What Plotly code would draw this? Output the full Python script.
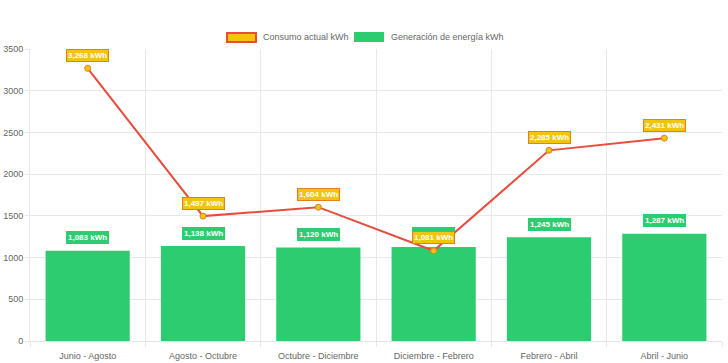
import plotly.graph_objects as go

categories = ["Junio - Agosto", "Agosto - Octubre", "Octubre - Diciembre",
              "Diciembre - Febrero", "Febrero - Abril", "Abril - Junio"]
consumo = [3268, 1497, 1604, 1081, 2285, 2431]
generacion = [1083, 1138, 1120, 1127, 1245, 1287]
y_ticks = [0, 500, 1000, 1500, 2000, 2500, 3000, 3500]
legend_names = ["Consumo actual kWh", "Generación de energía kWh"]

RED = "#e74c3c"
YEL = "#f1c40f"
ORG = "#e67e22"
GRN = "#2ecc71"
FONT = "Liberation Sans, Arial, sans-serif"

W, H = 728, 363
ML, MR, MT, MB = 30, 6, 49, 22
PW, PH = W - ML - MR, H - MT - MB


def px(xp):
    return (xp - ML) / PW


def py(yp):
    return (H - MB - yp) / PH


x = list(range(len(categories)))

fig = go.Figure()
fig.add_trace(go.Bar(x=x, y=generacion, name=legend_names[1],
                     marker=dict(color=GRN, line=dict(width=0)),
                     width=0.73, showlegend=False))
fig.add_trace(go.Scatter(x=x, y=consumo, mode="lines+markers", name=legend_names[0],
                         showlegend=False,
                         line=dict(color=RED, width=2),
                         marker=dict(size=6, color=YEL, line=dict(color=ORG, width=1))))

ann = []
for xi, v in zip(x, generacion):
    ann.append(dict(x=xi, y=v, xref="x", yref="y", text=f"<b>{v:,} kWh</b>",
                    showarrow=False, yshift=13,
                    font=dict(family=FONT, size=8, color="white"),
                    bgcolor=GRN, bordercolor=GRN, borderwidth=1, borderpad=1))
for xi, v in zip(x, consumo):
    ann.append(dict(x=xi, y=v, xref="x", yref="y", text=f"<b>{v:,} kWh</b>",
                    showarrow=False, yshift=13,
                    font=dict(family=FONT, size=8, color="white"),
                    bgcolor=YEL, bordercolor=ORG, borderwidth=1, borderpad=1))

# manual legend (Chart.js style wide boxes)
shapes = [
    dict(type="rect", xref="paper", yref="paper", x0=px(227), x1=px(256),
         y0=py(42), y1=py(33), fillcolor=YEL, line=dict(color=RED, width=2)),
    dict(type="rect", xref="paper", yref="paper", x0=px(354), x1=px(384),
         y0=py(42), y1=py(32), fillcolor=GRN, line=dict(color=GRN, width=0)),
]
ann.append(dict(x=px(261), y=py(37), xref="paper", yref="paper", text=legend_names[0],
                showarrow=False, xanchor="left", yanchor="middle",
                font=dict(family=FONT, size=9, color="#666")))
ann.append(dict(x=px(389), y=py(37), xref="paper", yref="paper", text=legend_names[1],
                showarrow=False, xanchor="left", yanchor="middle",
                font=dict(family=FONT, size=9, color="#666")))

fig.update_layout(
    width=W, height=H,
    margin=dict(l=ML, r=MR, t=MT, b=MB),
    paper_bgcolor="white", plot_bgcolor="white",
    font=dict(family=FONT, size=9, color="#666"),
    barmode="overlay",
    annotations=ann,
    shapes=shapes,
    showlegend=False,
)
fig.update_xaxes(range=[-0.5, 5.5], tickvals=x, ticktext=categories,
                 showgrid=False, showline=True, linecolor="#e5e5e5", ticks="",
                 tickfont=dict(size=9, color="#666"), automargin=False,
                 ticklabelstandoff=6,
                 minor=dict(tickvals=[i - 0.5 for i in range(7)], showgrid=True,
                            gridcolor="#e8e8e8", ticks="outside", ticklen=5,
                            tickcolor="#e8e8e8"),
                 zeroline=False)
fig.update_yaxes(range=[0, 3500], tickvals=y_ticks, showgrid=True, gridcolor="#e8e8e8",
                 showline=True, linecolor="#e8e8e8", ticks="outside", ticklen=4,
                 tickcolor="#e8e8e8", zeroline=False, automargin=False,
                 tickfont=dict(size=9, color="#666"))

fig.write_html("out.html", config={"displayModeBar": False},
               post_script="document.body.style.margin='0px';")
